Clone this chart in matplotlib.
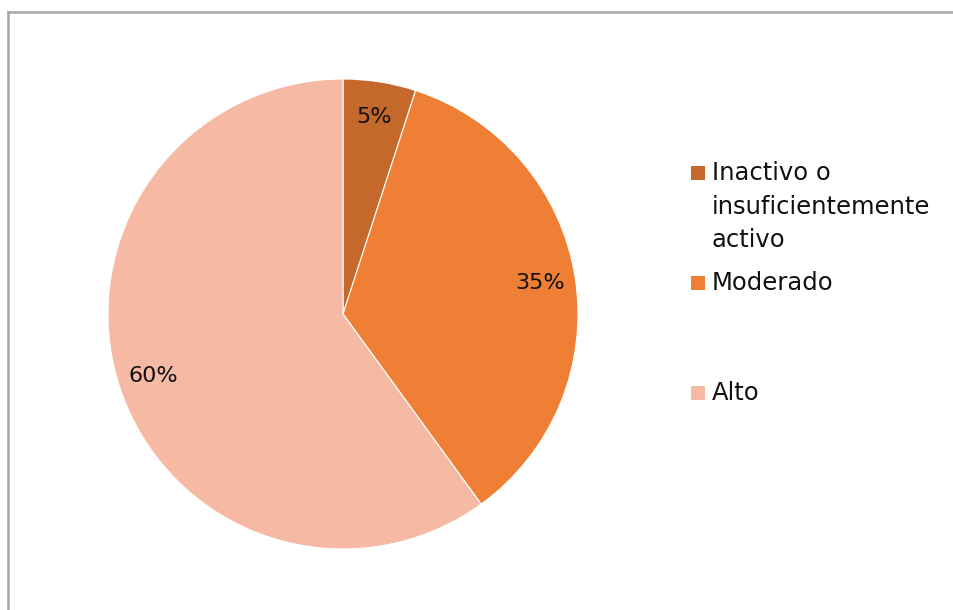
import matplotlib.pyplot as plt
from matplotlib.lines import Line2D
from matplotlib.patches import Rectangle

labels = ['Inactivo o\ninsuficientemente\nactivo', 'Moderado', 'Alto']
values = [5, 35, 60]
colors = ['#C5682C', '#EE7F34', '#F5B9A4']

W, H = 954, 610
plt.rcParams['font.family'] = ['DejaVu Sans']

fig = plt.figure(figsize=(W / 100, H / 100), dpi=100)

# pie centred at (343, 314) px with radius 235 px
cx, cy, r = 343, 314, 235
ax = fig.add_axes([(cx - r) / W, (H - cy - r) / H, 2 * r / W, 2 * r / H])
wedges, texts, autotexts = ax.pie(
    values, colors=colors, startangle=90, counterclock=False,
    autopct='%1.0f%%', pctdistance=0.85,
    wedgeprops=dict(edgecolor='white', linewidth=0.8),
    textprops=dict(fontsize=16, color='#111111'))
ax.set_xlim(-1, 1)
ax.set_ylim(-1, 1)

# frame lines on the left and top
grey = '#A6A6A6'
fig.add_artist(Line2D([8 / W, 8 / W], [0, 1 - 12 / H], color=grey, lw=1.8))
fig.add_artist(Line2D([8 / W, 1], [1 - 12 / H, 1 - 12 / H], color=grey, lw=1.8))

# legend entries
entry_y = [173, 283, 393]
for w, lab, y in zip(wedges, labels, entry_y):
    fig.add_artist(Rectangle((691 / W, 1 - (y + 7) / H), 14 / W, 14 / H,
                             facecolor=w.get_facecolor(), edgecolor='none',
                             transform=fig.transFigure))
    fig.text(712 / W, 1 - (y - 12) / H, lab, fontsize=17.5, color='#111111',
             va='top', ha='left', linespacing=1.5)

fig.savefig('out.png', dpi=100)
